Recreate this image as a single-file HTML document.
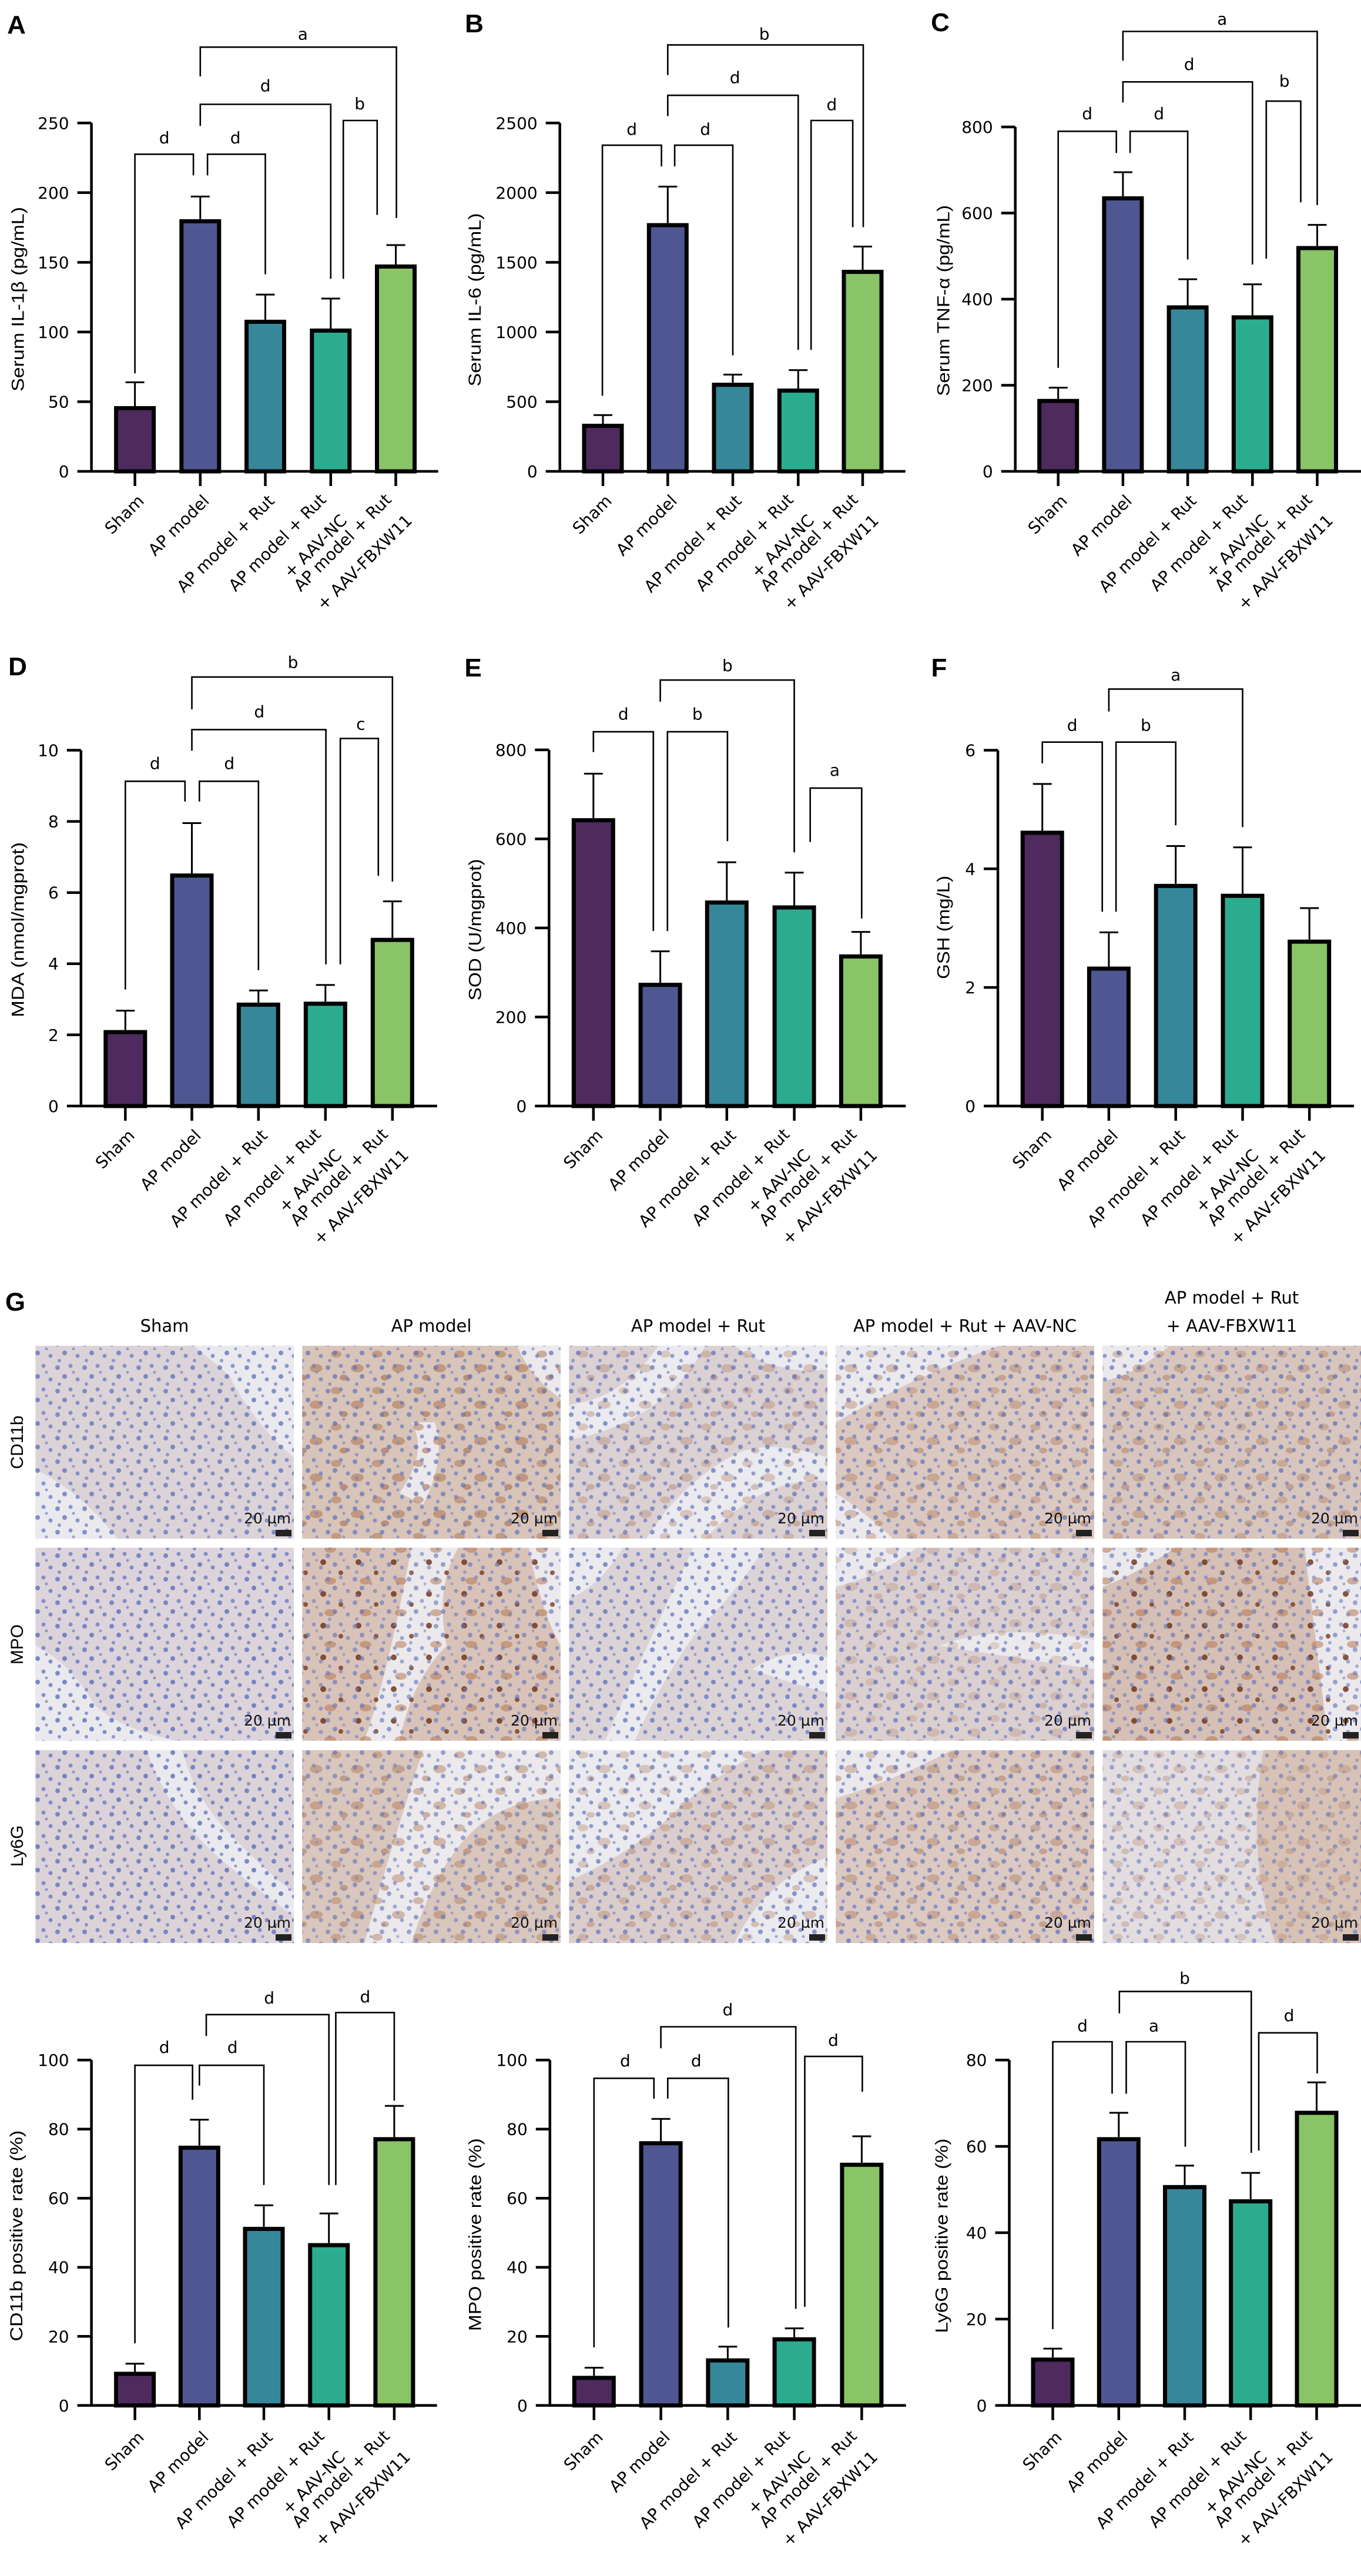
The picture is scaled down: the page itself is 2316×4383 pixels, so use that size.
<!DOCTYPE html>
<html><head><meta charset="utf-8">
<style>
html,body{margin:0;padding:0;background:#fff;}
svg{display:block;}
.t{font-family:"DejaVu Sans","Liberation Sans",sans-serif;font-size:28px;fill:#000;}
.yl{font-family:"Liberation Sans",sans-serif;font-size:30px;fill:#000;}
.L{font-family:"Liberation Sans",sans-serif;font-size:44px;font-weight:bold;fill:#000;}
.ax{stroke:#000;stroke-width:4.5;fill:none;}
.er{stroke:#000;stroke-width:3;fill:none;}
.br{stroke:#000;stroke-width:2.6;fill:none;}
.bar{stroke:#000;stroke-width:7;}
.ht{font-family:"DejaVu Sans","Liberation Sans",sans-serif;font-size:29px;fill:#000;}
.sb{font-family:"DejaVu Sans","Liberation Sans",sans-serif;font-size:25px;fill:#111;}
</style></head>
<body>
<svg width="2316" height="4383" viewBox="0 0 2316 4383" xmlns="http://www.w3.org/2000/svg">
<defs>
<pattern id="nuc" width="46" height="40" patternUnits="userSpaceOnUse">
<circle cx="6" cy="7" r="4" fill="#5f74c0"/><circle cx="28" cy="4" r="3.5" fill="#6a7cc4"/>
<circle cx="18" cy="22" r="4" fill="#5a6fbb"/><circle cx="40" cy="27" r="3.5" fill="#6679c2"/>
<circle cx="9" cy="35" r="3" fill="#7082c6"/><circle cx="33" cy="15" r="2.5" fill="#7a88c6"/>
</pattern>
<pattern id="brn" width="70" height="62" patternUnits="userSpaceOnUse">
<ellipse cx="12" cy="10" rx="9" ry="6" fill="#b07a55" opacity=".55"/>
<ellipse cx="48" cy="34" rx="11" ry="7" fill="#a86a45" opacity=".5"/>
<ellipse cx="25" cy="50" rx="7" ry="5" fill="#9a5a38" opacity=".5"/>
</pattern>
<pattern id="brd" width="60" height="54" patternUnits="userSpaceOnUse">
<circle cx="10" cy="12" r="5" fill="#6b2e15"/><circle cx="40" cy="30" r="4" fill="#7a3a1c"/>
<ellipse cx="22" cy="44" rx="10" ry="6" fill="#b06a40" opacity=".6"/>
</pattern>
</defs>
<rect width="2316" height="4383" fill="#fff"/>

<!-- Panel letters -->
<text class="L" x="28" y="57" text-anchor="middle">A</text>
<text class="L" x="807" y="55" text-anchor="middle">B</text>
<text class="L" x="1600" y="53" text-anchor="middle">C</text>
<text class="L" x="30" y="1149" text-anchor="middle">D</text>
<text class="L" x="805" y="1151" text-anchor="middle">E</text>
<text class="L" x="1598" y="1151" text-anchor="middle">F</text>
<text class="L" x="26" y="2230" text-anchor="middle">G</text>

<!-- ============ Panel A ============ -->
<g transform="translate(155.6,802)">
<path class="ax" d="M-24,-118.5H0M-24,-237.1H0M-24,-355.6H0M-24,-474.2H0M-24,-592.7H0M0,-592.7V0M-24,0H590M74,0v25M185.2,0v25M295.9,0v25M407.2,0v25M517.9,0v25"/>
<g class="t" text-anchor="end"><text x="-38" y="10">0</text><text x="-38" y="-108.5">50</text><text x="-38" y="-227.1">100</text><text x="-38" y="-345.6">150</text><text x="-38" y="-464.2">200</text><text x="-38" y="-582.7">250</text></g>
<rect class="bar" x="42" y="-107.5" width="64" height="107.5" fill="#4e2a5e"/>
<rect class="bar" x="153.2" y="-425.5" width="64" height="425.5" fill="#4f5792"/>
<rect class="bar" x="263.9" y="-254.5" width="64" height="254.5" fill="#368799"/>
<rect class="bar" x="375.2" y="-239.5" width="64" height="239.5" fill="#2bac8f"/>
<rect class="bar" x="485.9" y="-348.5" width="64" height="348.5" fill="#89c466"/>
<path class="er" d="M74,-111V-151.5M58,-151.5H90M185.2,-429V-467.6M169.2,-467.6H201.2M295.9,-258V-300.8M279.9,-300.8H311.9M407.2,-243V-294M391.2,-294H423.2M517.9,-352V-385M501.9,-385H533.9"/>
<path class="br" d="M74,-166.8V-539.6H173.5V-503.6M197.5,-503.6V-539.6H295.9V-335.3M185.2,-587.7V-624.5H407.2V-327.6M428.6,-327.6V-597H486.2V-436.2M185.2,-672V-721.8H519V-431"/>
<g class="t" text-anchor="middle"><text x="124" y="-558">d</text><text x="245" y="-558">d</text><text x="296" y="-646.7">d</text><text x="456.6" y="-616">b</text><text x="359.7" y="-734.6">a</text></g>
<text class="yl" transform="translate(-115,-293) rotate(-90)" text-anchor="middle" textLength="314" lengthAdjust="spacingAndGlyphs">Serum IL-1β (pg/mL)</text>
<g class="t" text-anchor="end">
<text transform="translate(91,52) rotate(-45)">Sham</text>
<text transform="translate(202,52) rotate(-45)">AP model</text>
<text transform="translate(313,52) rotate(-45)">AP model + Rut</text>
<text transform="translate(401,50) rotate(-45)">AP model + Rut<tspan x="0" dy="50">+ AAV-NC</tspan></text>
<text transform="translate(512,50) rotate(-45)">AP model + Rut<tspan x="0" dy="50">+ AAV-FBXW11</tspan></text>
</g>
</g>

<!-- ============ Panel B ============ -->
<g transform="translate(952.7,802)">
<path class="ax" d="M-24,-118.5H0M-24,-237.1H0M-24,-355.6H0M-24,-474.2H0M-24,-592.7H0M0,-592.7V0M-24,0H588M73.3,0v25M183.6,0v25M294.3,0v25M405.6,0v25M515.3,0v25"/>
<g class="t" text-anchor="end"><text x="-38" y="10">0</text><text x="-38" y="-108.5">500</text><text x="-38" y="-227.1">1000</text><text x="-38" y="-345.6">1500</text><text x="-38" y="-464.2">2000</text><text x="-38" y="-582.7">2500</text></g>
<rect class="bar" x="41.3" y="-77.5" width="64" height="77.5" fill="#4e2a5e"/>
<rect class="bar" x="151.6" y="-418.9" width="64" height="418.9" fill="#4f5792"/>
<rect class="bar" x="262.3" y="-147.3" width="64" height="147.3" fill="#368799"/>
<rect class="bar" x="373.6" y="-137.4" width="64" height="137.4" fill="#2bac8f"/>
<rect class="bar" x="483.3" y="-339.4" width="64" height="339.4" fill="#89c466"/>
<path class="er" d="M73.3,-81V-95.7M57.3,-95.7H89.3M183.6,-422.4V-484.5M167.6,-484.5H199.6M294.3,-150.8V-164.6M278.3,-164.6H310.3M405.6,-140.9V-172.2M389.6,-172.2H421.6M515.3,-342.9V-382.5M499.3,-382.5H531.3"/>
<path class="br" d="M72.4,-128.6V-554.9H172.9V-518.9M195.4,-518.9V-554.9H294.3V-197.4M183.6,-604.5V-639.8H405.6V-206.7M427.5,-206.7V-597H498.4V-415.5M183.6,-674.3V-725.6H516.3V-415.5"/>
<g class="t" text-anchor="middle"><text x="122.4" y="-572.5">d</text><text x="247.4" y="-572.5">d</text><text x="297.9" y="-660.5">d</text><text x="462.7" y="-614.5">d</text><text x="347.9" y="-734.6">b</text></g>
<text class="yl" transform="translate(-134.5,-292) rotate(-90)" text-anchor="middle" textLength="295" lengthAdjust="spacingAndGlyphs">Serum IL-6 (pg/mL)</text>
<g class="t" text-anchor="end">
<text transform="translate(90,52) rotate(-45)">Sham</text>
<text transform="translate(201,52) rotate(-45)">AP model</text>
<text transform="translate(311,52) rotate(-45)">AP model + Rut</text>
<text transform="translate(399,50) rotate(-45)">AP model + Rut<tspan x="0" dy="50">+ AAV-NC</tspan></text>
<text transform="translate(509,50) rotate(-45)">AP model + Rut<tspan x="0" dy="50">+ AAV-FBXW11</tspan></text>
</g>
</g>

<!-- ============ Panel C ============ -->
<g transform="translate(1727.7,802)">
<path class="ax" d="M-24,-146.5H0M-24,-293H0M-24,-439.5H0M-24,-586H0M0,-586V0M-24,0H590M73,0v25M183.2,0v25M293.4,0v25M403.6,0v25M513.8,0v25"/>
<g class="t" text-anchor="end"><text x="-38" y="10">0</text><text x="-38" y="-136.5">200</text><text x="-38" y="-283">400</text><text x="-38" y="-429.5">600</text><text x="-38" y="-576">800</text></g>
<rect class="bar" x="41" y="-119.8" width="64" height="119.8" fill="#4e2a5e"/>
<rect class="bar" x="151.2" y="-464.5" width="64" height="464.5" fill="#4f5792"/>
<rect class="bar" x="261.4" y="-279" width="64" height="279" fill="#368799"/>
<rect class="bar" x="371.6" y="-262" width="64" height="262" fill="#2bac8f"/>
<rect class="bar" x="481.8" y="-379.9" width="64" height="379.9" fill="#89c466"/>
<path class="er" d="M73,-123.3V-142.4M57,-142.4H89M183.2,-468V-509M167.2,-509H199.2M293.4,-282.5V-326.9M277.4,-326.9H309.4M403.6,-265.5V-318.3M387.6,-318.3H419.6M513.8,-383.4V-419.4M497.8,-419.4H529.8"/>
<path class="br" d="M73,-176.1V-578.6H172V-541.8M195.4,-541.8V-578.6H293.4V-360.5M183.2,-627.6V-662.7H403.6V-352M427.1,-362V-629.9H485.8V-457.7M183.2,-698.7V-748.5H513.8V-453"/>
<g class="t" text-anchor="middle"><text x="122.5" y="-599">d</text><text x="244.4" y="-599">d</text><text x="296" y="-683">d</text><text x="458" y="-654.5">b</text><text x="352" y="-760">a</text></g>
<text class="yl" transform="translate(-112.4,-290.6) rotate(-90)" text-anchor="middle" textLength="325" lengthAdjust="spacingAndGlyphs">Serum TNF-α (pg/mL)</text>
<g class="t" text-anchor="end">
<text transform="translate(90,52) rotate(-45)">Sham</text>
<text transform="translate(200,52) rotate(-45)">AP model</text>
<text transform="translate(310,52) rotate(-45)">AP model + Rut</text>
<text transform="translate(397,50) rotate(-45)">AP model + Rut<tspan x="0" dy="50">+ AAV-NC</tspan></text>
<text transform="translate(507,50) rotate(-45)">AP model + Rut<tspan x="0" dy="50">+ AAV-FBXW11</tspan></text>
</g>
</g>

<!-- ============ Panel D ============ -->
<g transform="translate(137.8,1881.9)">
<path class="ax" d="M-24,-121.1H0M-24,-242.2H0M-24,-363.2H0M-24,-484.3H0M-24,-605.4H0M0,-605.4V0M-24,0H606M75.5,0v25M188.7,0v25M302,0v25M416,0v25M530,0v25"/>
<g class="t" text-anchor="end"><text x="-38" y="10">0</text><text x="-38" y="-111.1">2</text><text x="-38" y="-232.2">4</text><text x="-38" y="-353.2">6</text><text x="-38" y="-474.3">8</text><text x="-38" y="-595.4">10</text></g>
<rect class="bar" x="42" y="-125.8" width="67" height="125.8" fill="#4e2a5e"/>
<rect class="bar" x="155.2" y="-392.2" width="67" height="392.2" fill="#4f5792"/>
<rect class="bar" x="268.5" y="-172.5" width="67" height="172.5" fill="#368799"/>
<rect class="bar" x="382.5" y="-174.1" width="67" height="174.1" fill="#2bac8f"/>
<rect class="bar" x="496.5" y="-282.7" width="67" height="282.7" fill="#89c466"/>
<path class="er" d="M75.5,-129.3V-162.3M59.5,-162.3H91.5M188.7,-395.7V-481.4M172.7,-481.4H204.7M302,-176V-196.7M286,-196.7H318M416,-177.6V-206M400,-206H432M530,-286.2V-348.3M514,-348.3H546"/>
<path class="br" d="M75.5,-198.3V-552.6H177V-518.1M201.5,-518.1V-552.6H302V-231.2M188.7,-604.5V-640.5H416.8V-241M441.3,-241V-625.4H506V-391.8M188.7,-675V-730H530V-381.9"/>
<g class="t" text-anchor="middle"><text x="126" y="-573.2">d</text><text x="252.5" y="-573.2">d</text><text x="303.5" y="-661.3">d</text><text x="476" y="-640.6">c</text><text x="360.7" y="-745.4">b</text></g>
<text class="yl" transform="translate(-97.2,-300) rotate(-90)" text-anchor="middle" textLength="298" lengthAdjust="spacingAndGlyphs">MDA (nmol/mgprot)</text>
<g class="t" text-anchor="end">
<text transform="translate(93,52) rotate(-45)">Sham</text>
<text transform="translate(206,52) rotate(-45)">AP model</text>
<text transform="translate(319,52) rotate(-45)">AP model + Rut</text>
<text transform="translate(410,50) rotate(-45)">AP model + Rut<tspan x="0" dy="50">+ AAV-NC</tspan></text>
<text transform="translate(524,50) rotate(-45)">AP model + Rut<tspan x="0" dy="50">+ AAV-FBXW11</tspan></text>
</g>
</g>

<!-- ============ Panel E ============ -->
<g transform="translate(934.3,1881.9)">
<path class="ax" d="M-24,-151.5H0M-24,-303H0M-24,-454.5H0M-24,-606H0M0,-606V0M-24,0H607M75.5,0v25M189.3,0v25M302.5,0v25M417.3,0v25M530.6,0v25"/>
<g class="t" text-anchor="end"><text x="-38" y="10">0</text><text x="-38" y="-141.5">200</text><text x="-38" y="-293">400</text><text x="-38" y="-444.5">600</text><text x="-38" y="-596">800</text></g>
<rect class="bar" x="42" y="-486.3" width="67" height="486.3" fill="#4e2a5e"/>
<rect class="bar" x="155.8" y="-206.2" width="67" height="206.2" fill="#4f5792"/>
<rect class="bar" x="269" y="-346.3" width="67" height="346.3" fill="#368799"/>
<rect class="bar" x="383.8" y="-337.9" width="67" height="337.9" fill="#2bac8f"/>
<rect class="bar" x="497.1" y="-254.5" width="67" height="254.5" fill="#89c466"/>
<path class="er" d="M75.5,-489.8V-565.5M59.5,-565.5H91.5M189.3,-209.7V-263.3M173.3,-263.3H205.3M302.5,-349.8V-414.8M286.5,-414.8H318.5M417.3,-341.4V-397.2M401.3,-397.2H433.3M530.6,-258V-296.3M514.6,-296.3H546.6"/>
<path class="br" d="M75.5,-602.3V-636.8H177.5V-297.8M201.5,-297.8V-636.8H303.6V-450.8M189.3,-688V-724.8H417.3V-431.7M444.4,-449.3V-541H532V-319.2"/>
<g class="t" text-anchor="middle"><text x="126.5" y="-657.4">d</text><text x="252.5" y="-657.4">b</text><text x="303.6" y="-740">b</text><text x="486.2" y="-561.7">a</text></g>
<text class="yl" transform="translate(-116,-300) rotate(-90)" text-anchor="middle" textLength="241" lengthAdjust="spacingAndGlyphs">SOD (U/mgprot)</text>
<g class="t" text-anchor="end">
<text transform="translate(93,52) rotate(-45)">Sham</text>
<text transform="translate(206,52) rotate(-45)">AP model</text>
<text transform="translate(320,52) rotate(-45)">AP model + Rut</text>
<text transform="translate(411,50) rotate(-45)">AP model + Rut<tspan x="0" dy="50">+ AAV-NC</tspan></text>
<text transform="translate(525,50) rotate(-45)">AP model + Rut<tspan x="0" dy="50">+ AAV-FBXW11</tspan></text>
</g>
</g>

<!-- ============ Panel F ============ -->
<g transform="translate(1698.1,1881.9)">
<path class="ax" d="M-24,-201.8H0M-24,-403.6H0M-24,-605.4H0M0,-605.4V0M-24,0H606M75.6,0v25M188.8,0v25M302.6,0v25M416.4,0v25M530.1,0v25"/>
<g class="t" text-anchor="end"><text x="-38" y="10">0</text><text x="-38" y="-191.8">2</text><text x="-38" y="-393.6">4</text><text x="-38" y="-595.4">6</text></g>
<rect class="bar" x="42.1" y="-465" width="67" height="465" fill="#4e2a5e"/>
<rect class="bar" x="155.3" y="-233.8" width="67" height="233.8" fill="#4f5792"/>
<rect class="bar" x="269.1" y="-374.5" width="67" height="374.5" fill="#368799"/>
<rect class="bar" x="382.9" y="-357.7" width="67" height="357.7" fill="#2bac8f"/>
<rect class="bar" x="496.6" y="-279.7" width="67" height="279.7" fill="#89c466"/>
<path class="er" d="M75.6,-468.5V-548M59.6,-548H91.6M188.8,-237.3V-295.5M172.8,-295.5H204.8M302.6,-378V-442.4M286.6,-442.4H318.6M416.4,-361.2V-440.1M400.4,-440.1H432.4M530.1,-283.2V-336.8M514.1,-336.8H546.1"/>
<path class="br" d="M75.6,-583.2V-619.2H177.6V-330.6M201,-330.6V-619.2H302.6V-477.6M188.8,-671.3V-709.5H416.4V-474.5"/>
<g class="t" text-anchor="middle"><text x="126.6" y="-638.3">d</text><text x="251.8" y="-638.3">b</text><text x="302.6" y="-724">a</text></g>
<text class="yl" transform="translate(-82.8,-304) rotate(-90)" text-anchor="middle" textLength="176" lengthAdjust="spacingAndGlyphs">GSH (mg/L)</text>
<g class="t" text-anchor="end">
<text transform="translate(93,52) rotate(-45)">Sham</text>
<text transform="translate(206,52) rotate(-45)">AP model</text>
<text transform="translate(320,52) rotate(-45)">AP model + Rut</text>
<text transform="translate(410,50) rotate(-45)">AP model + Rut<tspan x="0" dy="50">+ AAV-NC</tspan></text>
<text transform="translate(524,50) rotate(-45)">AP model + Rut<tspan x="0" dy="50">+ AAV-FBXW11</tspan></text>
</g>
</g>

<!-- ============ Histology G ============ -->
<g class="ht" text-anchor="middle">
<text x="280" y="2266">Sham</text>
<text x="734" y="2266">AP model</text>
<text x="1188" y="2266">AP model + Rut</text>
<text x="1642" y="2266">AP model + Rut + AAV-NC</text>
<text x="2096" y="2218">AP model + Rut</text>
<text x="2096" y="2266">+ AAV-FBXW11</text>
</g>
<g class="yl" text-anchor="middle">
<text transform="translate(39,2454) rotate(-90)">CD11b</text>
<text transform="translate(39,2798) rotate(-90)">MPO</text>
<text transform="translate(39,3141) rotate(-90)">Ly6G</text>
</g>

<!-- row 1 CD11b -->
<g>
<rect x="60.3" y="2289.8" width="439.7" height="328.3" fill="#dcd3d8"/>
<path d="M330,2289.8H500V2480Q430,2420 390,2340Z" fill="#eae9ee"/>
<path d="M60.3,2500Q140,2540 200,2618.1H60.3Z" fill="#eae9ee"/>
<rect x="60.3" y="2289.8" width="439.7" height="328.3" fill="url(#nuc)" opacity=".75"/>

<rect x="514.3" y="2289.8" width="439.7" height="328.3" fill="#d8c4b8"/>
<path d="M700,2420Q730,2470 680,2540L720,2560Q760,2480 740,2420Z" fill="#ece9ec"/>
<path d="M880,2289.8H954V2380Q900,2340 880,2289.8Z" fill="#ece9ec"/>
<rect x="514.3" y="2289.8" width="439.7" height="328.3" fill="url(#brn)"/>
<rect x="514.3" y="2289.8" width="439.7" height="328.3" fill="url(#nuc)" opacity=".7"/>

<rect x="968.3" y="2289.8" width="439.7" height="328.3" fill="#dbd0d2"/>
<path d="M968.3,2390Q1060,2380 1120,2289.8H1200Q1130,2420 968.3,2450Z" fill="#ebeaee"/>
<path d="M1250,2289.8H1408V2330Q1320,2340 1250,2289.8Z" fill="#ebeaee"/>
<path d="M1100,2618.1Q1160,2520 1260,2470Q1320,2450 1408,2480V2520Q1300,2510 1200,2618.1Z" fill="#ebeaee"/>
<rect x="968.3" y="2289.8" width="439.7" height="328.3" fill="url(#brn)" opacity=".6"/>
<rect x="968.3" y="2289.8" width="439.7" height="328.3" fill="url(#nuc)" opacity=".7"/>

<rect x="1422.3" y="2289.8" width="439.7" height="328.3" fill="#dbc8c0"/>
<path d="M1422.3,2289.8H1700Q1560,2340 1422.3,2420Z" fill="#ebe9ec"/>
<path d="M1422.3,2540Q1480,2580 1520,2618.1H1422.3Z" fill="#ebe9ec"/>
<rect x="1422.3" y="2289.8" width="439.7" height="328.3" fill="url(#brn)" opacity=".7"/>
<rect x="1422.3" y="2289.8" width="439.7" height="328.3" fill="url(#nuc)" opacity=".7"/>

<rect x="1876.3" y="2289.8" width="439.7" height="328.3" fill="#d8c6be"/>
<path d="M1876.3,2289.8H1990Q1930,2340 1876.3,2350Z" fill="#ebe9ec"/>
<rect x="1876.3" y="2289.8" width="439.7" height="328.3" fill="url(#brn)" opacity=".7"/>
<rect x="1876.3" y="2289.8" width="439.7" height="328.3" fill="url(#nuc)" opacity=".7"/>
</g>

<!-- row 2 MPO -->
<g>
<rect x="60.3" y="2633.4" width="439.7" height="328.3" fill="#dcd4da"/>
<path d="M60.3,2800Q120,2830 160,2900Q200,2940 300,2961.7H60.3Z" fill="#eae9ee"/>
<rect x="60.3" y="2633.4" width="439.7" height="328.3" fill="url(#nuc)" opacity=".8"/>

<rect x="514.3" y="2633.4" width="439.7" height="328.3" fill="#d9c3b8"/>
<path d="M700,2633.4H780Q740,2700 760,2800Q700,2860 680,2961.7H620Q660,2850 700,2633.4Z" fill="#ece9ec"/>
<path d="M900,2633.4H954V2800Q920,2740 900,2633.4Z" fill="#ece9ec"/>
<rect x="514.3" y="2633.4" width="439.7" height="328.3" fill="url(#brd)" opacity=".8"/>
<rect x="514.3" y="2633.4" width="439.7" height="328.3" fill="url(#nuc)" opacity=".6"/>

<rect x="968.3" y="2633.4" width="439.7" height="328.3" fill="#dcd3d7"/>
<path d="M968.3,2633.4H1060Q1020,2700 968.3,2720Z" fill="#ebeaee"/>
<path d="M1180,2633.4H1300Q1260,2700 1200,2760Q1140,2830 1080,2961.7H1030Q1100,2800 1180,2633.4Z" fill="#ebeaee"/>
<path d="M1280,2840Q1340,2800 1408,2820V2880Q1330,2860 1280,2840Z" fill="#ebeaee"/>
<rect x="968.3" y="2633.4" width="439.7" height="328.3" fill="url(#nuc)" opacity=".75"/>

<rect x="1422.3" y="2633.4" width="439.7" height="328.3" fill="#dbcfd0"/>
<path d="M1422.3,2633.4H1560Q1500,2680 1422.3,2700Z" fill="#ebe9ec"/>
<path d="M1600,2800Q1700,2760 1862,2790V2840Q1720,2820 1600,2800Z" fill="#ebe9ec"/>
<rect x="1422.3" y="2633.4" width="439.7" height="328.3" fill="url(#brn)" opacity=".45"/>
<rect x="1422.3" y="2633.4" width="439.7" height="328.3" fill="url(#nuc)" opacity=".7"/>

<rect x="1876.3" y="2633.4" width="439.7" height="328.3" fill="#d6bfb4"/>
<path d="M1876.3,2633.4H2000Q1930,2680 1876.3,2700Z" fill="#ebe9ec"/>
<path d="M2220,2633.4H2316V2961.7H2260Q2240,2800 2220,2633.4Z" fill="#ebe9ec"/>
<rect x="1876.3" y="2633.4" width="439.7" height="328.3" fill="url(#brd)" opacity=".8"/>
<rect x="1876.3" y="2633.4" width="439.7" height="328.3" fill="url(#nuc)" opacity=".6"/>
</g>

<!-- row 3 Ly6G -->
<g>
<rect x="60.3" y="2977.8" width="439.7" height="328.3" fill="#dcd3d9"/>
<path d="M250,2977.8H310Q330,3060 400,3130Q460,3190 500,3220V3260Q430,3210 360,3150Q280,3070 250,2977.8Z" fill="#eae9ee"/>
<rect x="60.3" y="2977.8" width="439.7" height="328.3" fill="url(#nuc)" opacity=".8"/>

<rect x="514.3" y="2977.8" width="439.7" height="328.3" fill="#d9c6bc"/>
<path d="M720,2977.8H954V3060Q860,3060 800,3120Q740,3180 700,3306.1H620Q660,3160 720,2977.8Z" fill="#ece9ec"/>
<rect x="514.3" y="2977.8" width="439.7" height="328.3" fill="url(#brn)" opacity=".8"/>
<rect x="514.3" y="2977.8" width="439.7" height="328.3" fill="url(#nuc)" opacity=".6"/>

<rect x="968.3" y="2977.8" width="439.7" height="328.3" fill="#dbcdcb"/>
<path d="M968.3,2977.8H1300Q1200,3030 1130,3100Q1060,3160 968.3,3200Z" fill="#ebeaee"/>
<path d="M1250,3306.1Q1300,3200 1408,3160V3306.1Z" fill="#ebeaee"/>
<rect x="968.3" y="2977.8" width="439.7" height="328.3" fill="url(#brn)" opacity=".6"/>
<rect x="968.3" y="2977.8" width="439.7" height="328.3" fill="url(#nuc)" opacity=".7"/>

<rect x="1422.3" y="2977.8" width="439.7" height="328.3" fill="#dbc9c2"/>
<path d="M1422.3,2977.8H1620Q1520,3030 1422.3,3060Z" fill="#ebe9ec"/>
<rect x="1422.3" y="2977.8" width="439.7" height="328.3" fill="url(#brn)" opacity=".7"/>
<rect x="1422.3" y="2977.8" width="439.7" height="328.3" fill="url(#nuc)" opacity=".7"/>

<rect x="1876.3" y="2977.8" width="439.7" height="328.3" fill="#e3dde0"/>
<path d="M2150,2977.8H2316V3306.1H2170Q2120,3150 2150,2977.8Z" fill="#d8c2b6"/>
<rect x="1876.3" y="2977.8" width="439.7" height="328.3" fill="url(#brn)" opacity=".5"/>
<rect x="1876.3" y="2977.8" width="439.7" height="328.3" fill="url(#nuc)" opacity=".55"/>
</g>

<!-- scale bars -->
<g class="sb" text-anchor="end">
<text x="495" y="2592">20 µm</text><text x="949" y="2592">20 µm</text><text x="1403" y="2592">20 µm</text><text x="1857" y="2592">20 µm</text><text x="2311" y="2592">20 µm</text>
<text x="495" y="2936">20 µm</text><text x="949" y="2936">20 µm</text><text x="1403" y="2936">20 µm</text><text x="1857" y="2936">20 µm</text><text x="2311" y="2936">20 µm</text>
<text x="495" y="3280">20 µm</text><text x="949" y="3280">20 µm</text><text x="1403" y="3280">20 µm</text><text x="1857" y="3280">20 µm</text><text x="2311" y="3280">20 µm</text>
</g>
<g fill="#222">
<rect x="469" y="2603" width="27" height="11"/><rect x="923" y="2603" width="27" height="11"/><rect x="1377" y="2603" width="27" height="11"/><rect x="1831" y="2603" width="27" height="11"/><rect x="2285" y="2603" width="27" height="11"/>
<rect x="469" y="2947" width="27" height="11"/><rect x="923" y="2947" width="27" height="11"/><rect x="1377" y="2947" width="27" height="11"/><rect x="1831" y="2947" width="27" height="11"/><rect x="2285" y="2947" width="27" height="11"/>
<rect x="469" y="3291" width="27" height="11"/><rect x="923" y="3291" width="27" height="11"/><rect x="1377" y="3291" width="27" height="11"/><rect x="1831" y="3291" width="27" height="11"/><rect x="2285" y="3291" width="27" height="11"/>
</g>

<!-- ============ H1 CD11b ============ -->
<g transform="translate(155.6,4092.8)">
<path class="ax" d="M-24,-117.5H0M-24,-235.1H0M-24,-352.6H0M-24,-470.2H0M-24,-587.7H0M0,-587.7V0M-24,0H588M74,0v25M183.7,0v25M293.4,0v25M404.1,0v25M515.3,0v25"/>
<g class="t" text-anchor="end"><text x="-38" y="10">0</text><text x="-38" y="-107.5">20</text><text x="-38" y="-225.1">40</text><text x="-38" y="-342.6">60</text><text x="-38" y="-460.2">80</text><text x="-38" y="-577.7">100</text></g>
<rect class="bar" x="42" y="-53.8" width="64" height="53.8" fill="#4e2a5e"/>
<rect class="bar" x="151.7" y="-438.5" width="64" height="438.5" fill="#4f5792"/>
<rect class="bar" x="261.4" y="-300.4" width="64" height="300.4" fill="#368799"/>
<rect class="bar" x="372.1" y="-272.7" width="64" height="272.7" fill="#2bac8f"/>
<rect class="bar" x="483.3" y="-453" width="64" height="453" fill="#89c466"/>
<path class="er" d="M74,-57.3V-71.1M58,-71.1H90M183.7,-442V-486.2M167.7,-486.2H199.7M293.4,-303.9V-340.5M277.4,-340.5H309.4M404.1,-276.2V-326.7M388.1,-326.7H420.1M515.3,-456.5V-509.7M499.3,-509.7H531.3"/>
<path class="br" d="M74,-105.7V-578.7H172V-520M183.7,-544.2V-578.7H293.4V-375M195.4,-628.5V-665H404.1V-375M415.8,-375V-668.5H515.3V-518.6"/>
<g class="t" text-anchor="middle"><text x="124" y="-600">d</text><text x="240" y="-600">d</text><text x="302.6" y="-684">d</text><text x="465.8" y="-686">d</text></g>
<text class="yl" transform="translate(-117.5,-288.7) rotate(-90)" text-anchor="middle" textLength="359" lengthAdjust="spacingAndGlyphs">CD11b positive rate (%)</text>
<g class="t" text-anchor="end">
<text transform="translate(91,56) rotate(-45)">Sham</text>
<text transform="translate(201,56) rotate(-45)">AP model</text>
<text transform="translate(310,56) rotate(-45)">AP model + Rut</text>
<text transform="translate(398,54) rotate(-45)">AP model + Rut<tspan x="0" dy="50">+ AAV-NC</tspan></text>
<text transform="translate(509,54) rotate(-45)">AP model + Rut<tspan x="0" dy="50">+ AAV-FBXW11</tspan></text>
</g>
</g>

<!-- ============ H2 MPO ============ -->
<g transform="translate(935.8,4092.8)">
<path class="ax" d="M-24,-117.5H0M-24,-235.1H0M-24,-352.6H0M-24,-470.2H0M-24,-587.7H0M0,-587.7V0M-24,0H606M75,0v25M188.8,0v25M302.6,0v25M415.8,0v25M530.6,0v25"/>
<g class="t" text-anchor="end"><text x="-38" y="10">0</text><text x="-38" y="-107.5">20</text><text x="-38" y="-225.1">40</text><text x="-38" y="-342.6">60</text><text x="-38" y="-460.2">80</text><text x="-38" y="-577.7">100</text></g>
<rect class="bar" x="41.5" y="-46.9" width="67" height="46.9" fill="#4e2a5e"/>
<rect class="bar" x="155.3" y="-446.1" width="67" height="446.1" fill="#4f5792"/>
<rect class="bar" x="269.1" y="-76.6" width="67" height="76.6" fill="#368799"/>
<rect class="bar" x="382.3" y="-112.5" width="67" height="112.5" fill="#2bac8f"/>
<rect class="bar" x="497.1" y="-409.5" width="67" height="409.5" fill="#89c466"/>
<path class="er" d="M75,-50.4V-64.2M59,-64.2H91M188.8,-449.6V-487.6M172.8,-487.6H204.8M302.6,-80.1V-100.1M286.6,-100.1H318.6M415.8,-116V-131.2M399.8,-131.2H431.8M530.6,-413V-457.9M514.6,-457.9H546.6"/>
<path class="br" d="M75,-98.8V-556.6H177V-522.1M200.5,-522.1V-556.6H303.6V-132.6M188.8,-607.7V-644.3H418.4V-164.4M433.7,-167.8V-593.9H531.6V-533.8"/>
<g class="t" text-anchor="middle"><text x="128.1" y="-576.8">d</text><text x="249" y="-576.8">d</text><text x="302.6" y="-664">d</text><text x="482.2" y="-612">d</text></g>
<text class="yl" transform="translate(-117.5,-290.7) rotate(-90)" text-anchor="middle" textLength="328" lengthAdjust="spacingAndGlyphs">MPO positive rate (%)</text>
<g class="t" text-anchor="end">
<text transform="translate(92,56) rotate(-45)">Sham</text>
<text transform="translate(206,56) rotate(-45)">AP model</text>
<text transform="translate(320,56) rotate(-45)">AP model + Rut</text>
<text transform="translate(410,54) rotate(-45)">AP model + Rut<tspan x="0" dy="50">+ AAV-NC</tspan></text>
<text transform="translate(524,54) rotate(-45)">AP model + Rut<tspan x="0" dy="50">+ AAV-FBXW11</tspan></text>
</g>
</g>

<!-- ============ H3 Ly6G ============ -->
<g transform="translate(1717.5,4092.8)">
<path class="ax" d="M-24,-146.9H0M-24,-293.9H0M-24,-440.8H0M-24,-587.7H0M0,-587.7V0M-24,0H599M74,0v25M186.3,0v25M298.5,0v25M410.7,0v25M523,0v25"/>
<g class="t" text-anchor="end"><text x="-38" y="10">0</text><text x="-38" y="-136.9">20</text><text x="-38" y="-283.9">40</text><text x="-38" y="-430.8">60</text><text x="-38" y="-577.7">80</text></g>
<rect class="bar" x="40.5" y="-78" width="67" height="78" fill="#4e2a5e"/>
<rect class="bar" x="152.8" y="-453" width="67" height="453" fill="#4f5792"/>
<rect class="bar" x="265" y="-371.5" width="67" height="371.5" fill="#368799"/>
<rect class="bar" x="377.2" y="-347.3" width="67" height="347.3" fill="#2bac8f"/>
<rect class="bar" x="489.5" y="-497.9" width="67" height="497.9" fill="#89c466"/>
<path class="er" d="M74,-81.5V-96.7M58,-96.7H90M186.3,-456.5V-497.9M170.3,-497.9H202.3M298.5,-375V-408.1M282.5,-408.1H314.5M410.7,-350.8V-395.7M394.7,-395.7H426.7M523,-501.4V-549.7M507,-549.7H539"/>
<path class="br" d="M74,-129.8V-618.8H175V-530.4M199,-530.4V-618.8H299.5V-440.2M187.3,-667.1V-704.4H411.8V-429.8M424.5,-433.7V-634H524V-564.9"/>
<g class="t" text-anchor="middle"><text x="124.5" y="-636.4">d</text><text x="246" y="-636.4">a</text><text x="298.5" y="-717.2">b</text><text x="476" y="-653.7">d</text></g>
<text class="yl" transform="translate(-104.8,-288.7) rotate(-90)" text-anchor="middle" textLength="331" lengthAdjust="spacingAndGlyphs">Ly6G positive rate (%)</text>
<g class="t" text-anchor="end">
<text transform="translate(91,56) rotate(-45)">Sham</text>
<text transform="translate(203,56) rotate(-45)">AP model</text>
<text transform="translate(315,56) rotate(-45)">AP model + Rut</text>
<text transform="translate(405,54) rotate(-45)">AP model + Rut<tspan x="0" dy="50">+ AAV-NC</tspan></text>
<text transform="translate(517,54) rotate(-45)">AP model + Rut<tspan x="0" dy="50">+ AAV-FBXW11</tspan></text>
</g>
</g>
</svg>
</body></html>
